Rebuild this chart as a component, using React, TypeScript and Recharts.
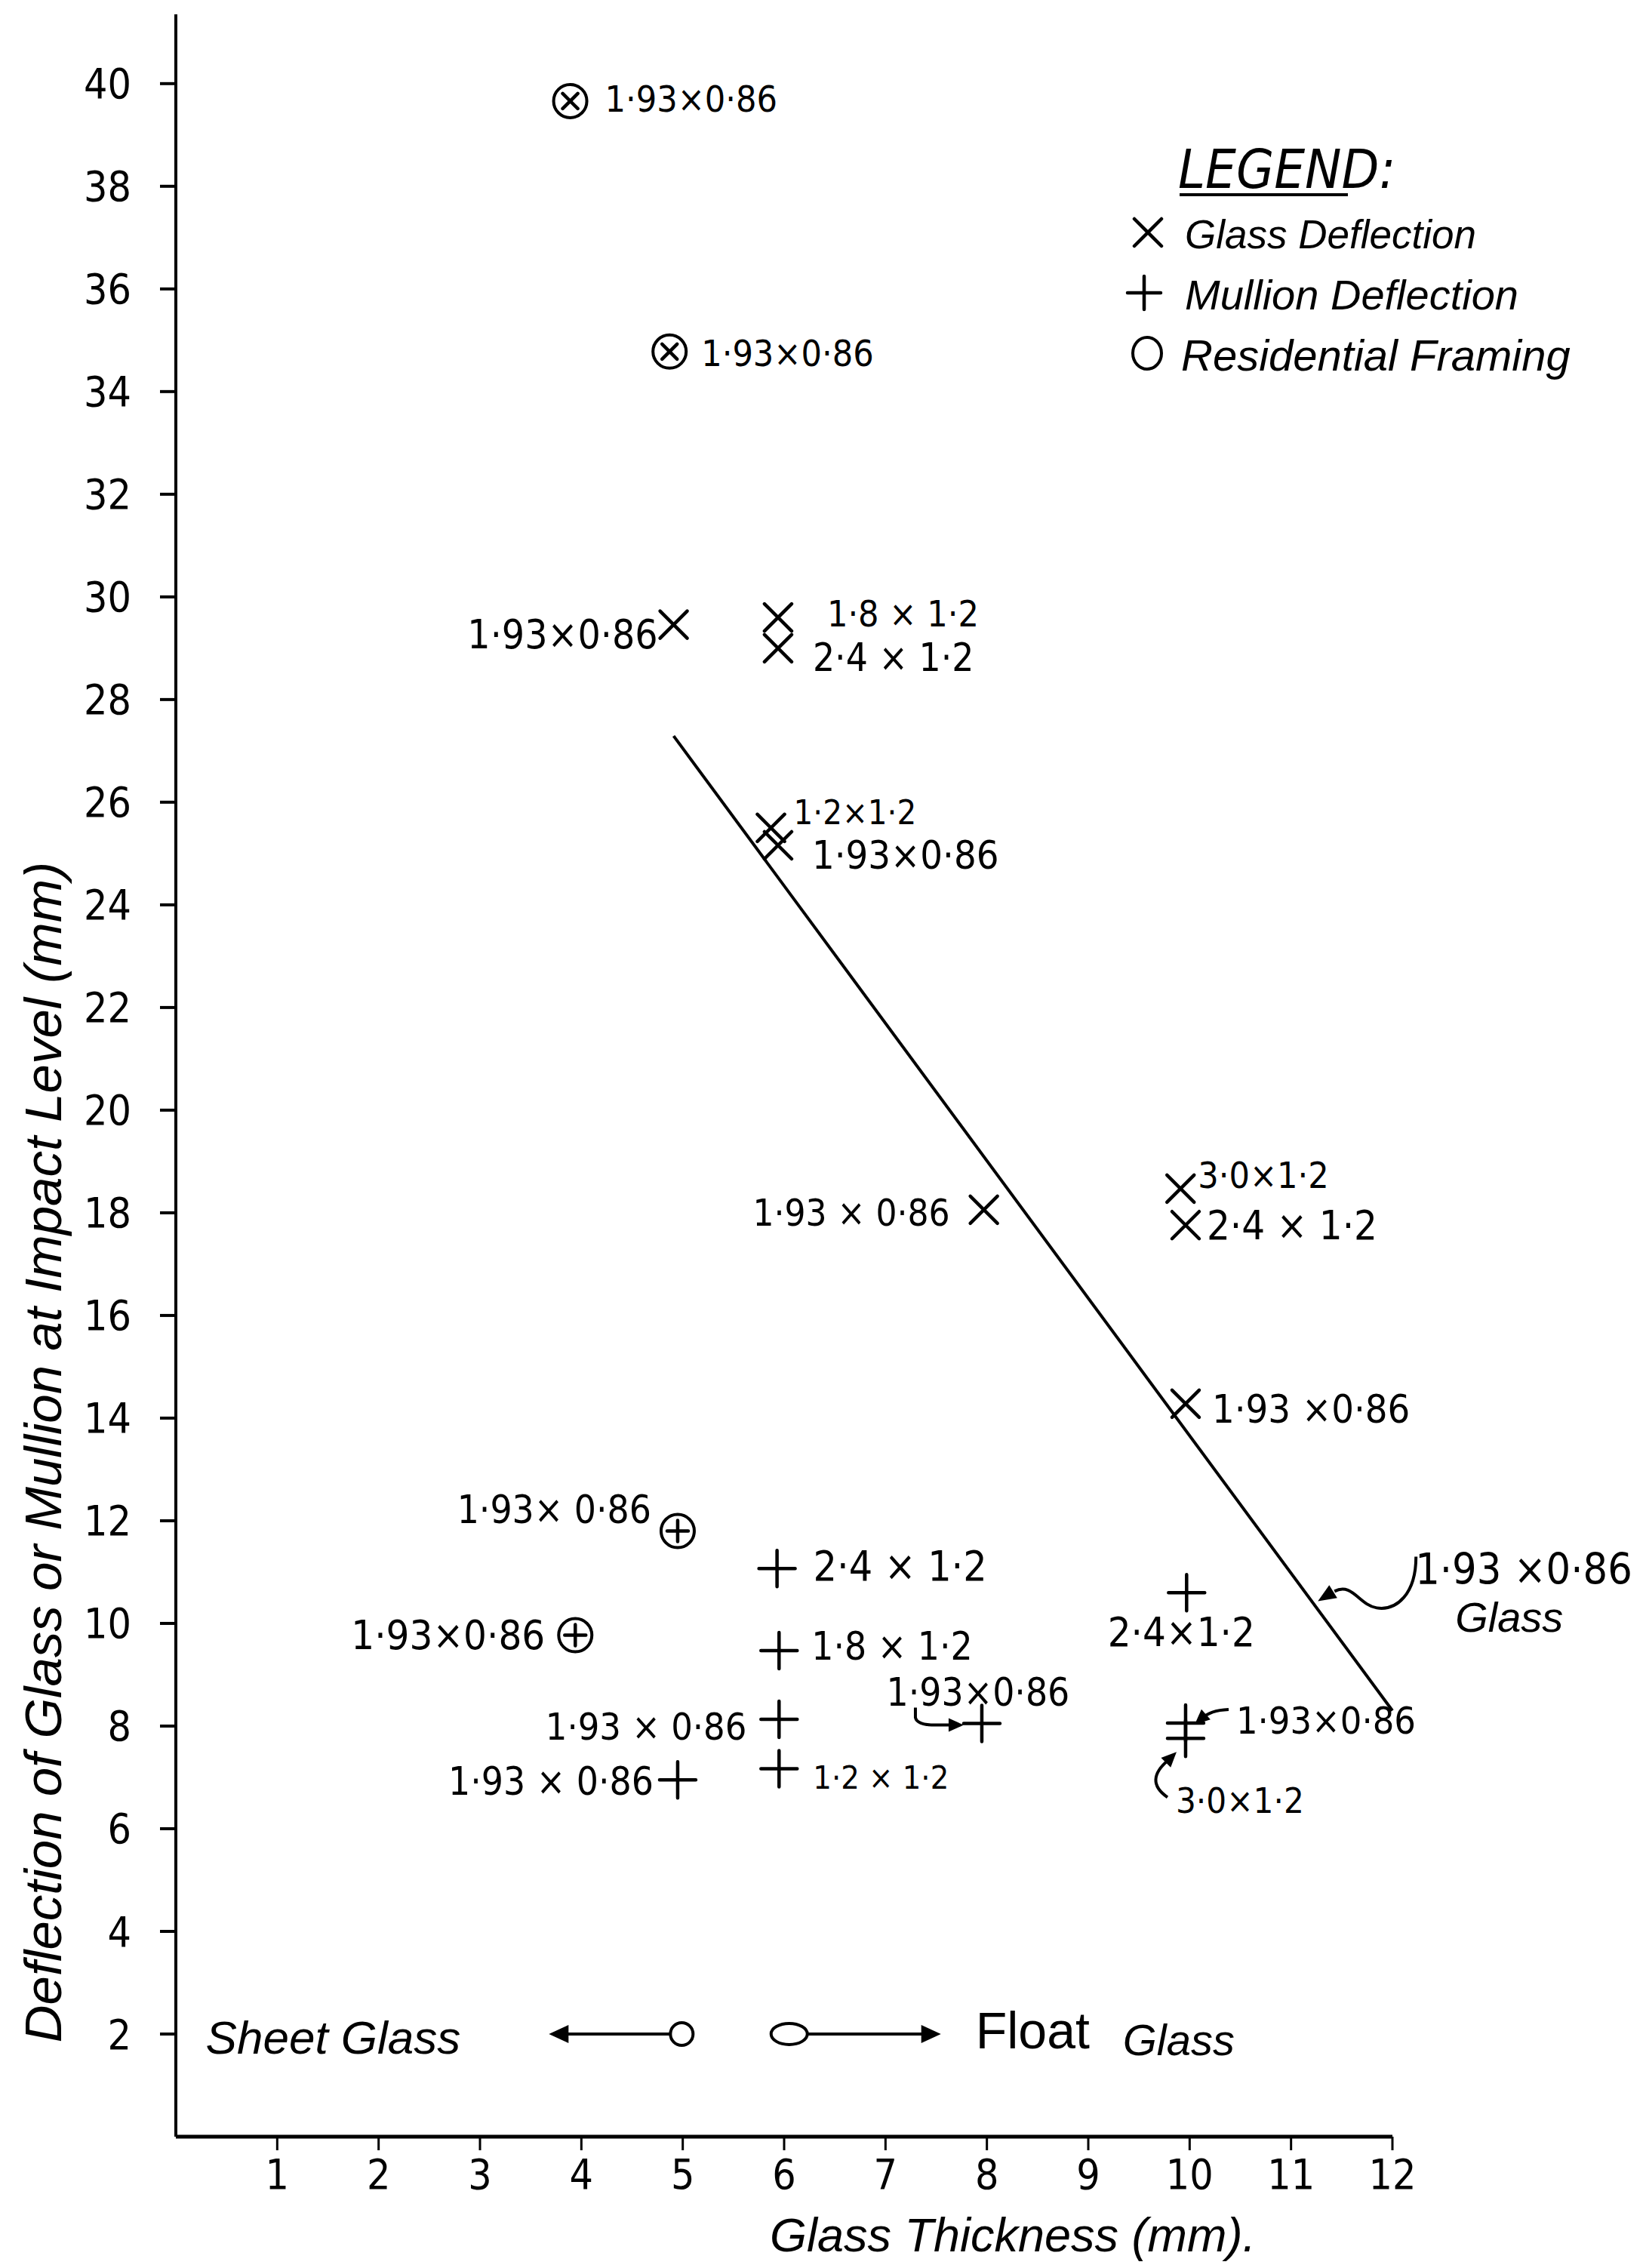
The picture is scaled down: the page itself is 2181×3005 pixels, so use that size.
import React from "react";
import { ScatterChart, Scatter, XAxis, YAxis, ReferenceDot, Label } from "recharts";

const W = 2181;
const H = 3005;
const NUM_FONT = "'Liberation Sans Narrow', 'DejaVu Sans Condensed', 'Liberation Sans', sans-serif";
const WORD_FONT = "'Liberation Sans', 'DejaVu Sans', sans-serif";
const INK = "#000";

// glass deflection (×)
const glassThickness = [4.91, 5.94, 5.94, 5.87, 5.94, 7.97, 9.91, 9.96, 9.96];
const glassDeflection = [29.46, 29.6, 29.0, 25.5, 25.16, 18.06, 18.47, 17.76, 14.28];
const glassPanel = ["1·93×0·86", "1·8 × 1·2", "2·4 × 1·2", "1·2×1·2", "1·93×0·86", "1·93 × 0·86", "3·0×1·2", "2·4 × 1·2", "1·93 ×0·86"];

// glass deflection, residential framing (circled ×)
const resGlassThickness = [3.89, 4.87];
const resGlassDeflection = [39.66, 34.78];
const resGlassPanel = ["1·93×0·86", "1·93×0·86"];

// mullion deflection (+)
const mullionThickness = [5.93, 5.95, 5.95, 5.95, 4.95, 7.95, 9.97, 9.96, 9.96];
const mullionDeflection = [11.07, 9.47, 8.13, 7.17, 6.95, 8.05, 10.6, 8.06, 7.76];
const mullionPanel = ["2·4 × 1·2", "1·8 × 1·2", "1·93 × 0·86", "1·2 × 1·2", "1·93 × 0·86", "1·93×0·86", "2·4×1·2", "1·93×0·86", "3·0×1·2"];

// mullion deflection, residential framing (circled +)
const resMullionThickness = [4.95, 3.94];
const resMullionDeflection = [11.8, 9.77];
const resMullionPanel = ["1·93× 0·86", "1·93×0·86"];

// fitted line through the glass points
const fitThickness = [4.91, 12];
const fitDeflection = [27.29, 8.3];
const fitNoteAt = { x: 11.22, y: 10.42 };
const fitNote = ["1·93 ×0·86", "Glass"];

// sheet / float glass divide
const glassTypeThickness = [4.99, 6.05];
const glassTypeLevel = [2, 2];
const glassTypeName = ["Sheet Glass", "Float"];

const xTicks = [1, 2, 3, 4, 5, 6, 7, 8, 9, 10, 11, 12];
const yTicks = [2, 4, 6, 8, 10, 12, 14, 16, 18, 20, 22, 24, 26, 28, 30, 32, 34, 36, 38, 40];

// label placement beside each mark: side, gap (px), vertical shift (px)
type Side = "l" | "r" | "c";
const glassLabelAt: [Side, number, number][] = [
  ["l", 21, 13], ["r", 65, -5], ["r", 46, 13], ["r", 30, -20], ["r", 45, 13],
  ["l", 45, 5], ["r", 23, -18], ["r", 28, 0], ["r", 35, 7],
];
const glassLabelSize = [53, 48, 51, 45, 52, 49, 48, 54, 52];
const resGlassLabelAt: [Side, number, number][] = [["r", 46, -3], ["r", 42, 2]];
const resGlassLabelSize = [48, 48];
const mullionLabelAt: [Side, number, number][] = [
  ["r", 48, -3], ["r", 43, -5], ["l", 43, 10], ["r", 45, 12], ["l", 32, 2],
  ["c", -5, -41], ["c", -7, 52], ["r", 67, -3], ["r", -13, 82],
];
const mullionLabelSize = [55, 51, 50, 43, 51, 51, 54, 50, 47];
const mullionPointer = ["", "", "", "", "", "hook", "", "left", "under"];
const resMullionLabelAt: [Side, number, number][] = [["l", 35, -28], ["l", 40, 0]];
const resMullionLabelSize = [51, 54];

const pts = (xs: number[], ys: number[]) => xs.map((x, i) => ({ x, y: ys[i], i }));

const glassData = pts(glassThickness, glassDeflection);
const resGlassData = pts(resGlassThickness, resGlassDeflection);
const mullionData = pts(mullionThickness, mullionDeflection);
const resMullionData = pts(resMullionThickness, resMullionDeflection);
const fitData = pts(fitThickness, fitDeflection);
const glassTypeData = pts(glassTypeThickness, glassTypeLevel);

function Tag({ cx, cy, at, text, size = 50 }: any) {
  const [side, gap, dy] = at;
  const x = side === "l" ? cx - gap : cx + gap;
  const anchor = side === "l" ? "end" : side === "c" ? "middle" : "start";
  return (
    <text x={x} y={cy + dy} textAnchor={anchor} dominantBaseline="central"
      fontFamily={NUM_FONT} fontSize={size} fill={INK}>
      {text}
    </text>
  );
}

// filled arrow head at (tx,ty), coming from (fx,fy)
function Head({ tx, ty, fx, fy, len = 20, half = 9 }: any) {
  const a = Math.atan2(ty - fy, tx - fx);
  const bx = tx - Math.cos(a) * len;
  const by = ty - Math.sin(a) * len;
  const nx = -Math.sin(a) * half;
  const ny = Math.cos(a) * half;
  return <path d={`M${tx},${ty} L${bx + nx},${by + ny} L${bx - nx},${by - ny} Z`} fill={INK} />;
}

const Cross = ({ cx, cy, s }: any) => (
  <path d={`M${cx - s},${cy - s} L${cx + s},${cy + s} M${cx + s},${cy - s} L${cx - s},${cy + s}`} stroke={INK} strokeWidth={4.5} strokeLinecap="round" />
);
const Plus = ({ cx, cy, s }: any) => (
  <path d={`M${cx - s},${cy} L${cx + s},${cy} M${cx},${cy - s} L${cx},${cy + s}`} stroke={INK} strokeWidth={4.5} strokeLinecap="round" />
);

function GlassMark(p: any) {
  const i = p.payload.i;
  return (
    <g>
      <Cross cx={p.cx} cy={p.cy} s={18} />
      <Tag cx={p.cx} cy={p.cy} at={glassLabelAt[i]} text={glassPanel[i]} size={glassLabelSize[i]} />
    </g>
  );
}

function ResGlassMark(p: any) {
  const i = p.payload.i;
  return (
    <g>
      <circle cx={p.cx} cy={p.cy} r={22} fill="none" stroke={INK} strokeWidth={4} />
      <Cross cx={p.cx} cy={p.cy} s={10} />
      <Tag cx={p.cx} cy={p.cy} at={resGlassLabelAt[i]} text={resGlassPanel[i]} size={resGlassLabelSize[i]} />
    </g>
  );
}

function MullionMark(p: any) {
  const i = p.payload.i;
  const { cx, cy } = p;
  const kind = mullionPointer[i];
  return (
    <g>
      <Plus cx={cx} cy={cy} s={24} />
      <Tag cx={cx} cy={cy} at={mullionLabelAt[i]} text={mullionPanel[i]} size={mullionLabelSize[i]} />
      {kind === "hook" && (
        <g>
          <path d={`M${cx - 88},${cy - 21} L${cx - 88},${cy - 8} Q${cx - 86},${cy + 2} ${cx - 62},${cy + 2} L${cx - 40},${cy + 2}`} fill="none" stroke={INK} strokeWidth={4} />
          <Head tx={cx - 24} ty={cy + 2} fx={cx - 60} fy={cy + 2} />
        </g>
      )}
      {kind === "left" && (
        <g>
          <path d={`M${cx + 57},${cy - 18} Q${cx + 32},${cy - 17} ${cx + 22},${cy - 6}`} fill="none" stroke={INK} strokeWidth={4} />
          <Head tx={cx + 12} ty={cy + 2} fx={cx + 30} fy={cy - 14} />
        </g>
      )}
      {kind === "under" && (
        <g>
          <path d={`M${cx - 24},${cy + 78} Q${cx - 56},${cy + 56} ${cx - 22},${cy + 28}`} fill="none" stroke={INK} strokeWidth={4} />
          <Head tx={cx - 12} ty={cy + 18} fx={cx - 30} fy={cy + 36} />
        </g>
      )}
    </g>
  );
}

function ResMullionMark(p: any) {
  const i = p.payload.i;
  return (
    <g>
      <circle cx={p.cx} cy={p.cy} r={22} fill="none" stroke={INK} strokeWidth={4} />
      <Plus cx={p.cx} cy={p.cy} s={14} />
      <Tag cx={p.cx} cy={p.cy} at={resMullionLabelAt[i]} text={resMullionPanel[i]} size={resMullionLabelSize[i]} />
    </g>
  );
}

function GlassTypeMark(p: any) {
  const i = p.payload.i;
  const { cx, cy } = p;
  if (i === 0) {
    return (
      <g>
        <ellipse cx={cx} cy={cy} rx={15} ry={15} fill="none" stroke={INK} strokeWidth={4} />
        <path d={`M${cx - 15},${cy} L${cx - 160},${cy}`} stroke={INK} strokeWidth={4} />
        <Head tx={cx - 176} ty={cy} fx={cx - 100} fy={cy} len={26} half={12} />
        <text x={cx - 293} y={cy + 5} textAnchor="end" dominantBaseline="central" fontFamily={WORD_FONT} fontStyle="italic" fontSize={62} fill={INK}>
          {glassTypeName[i]}
        </text>
      </g>
    );
  }
  return (
    <g>
      <ellipse cx={cx} cy={cy} rx={24} ry={14} fill="none" stroke={INK} strokeWidth={4} />
      <path d={`M${cx + 24},${cy} L${cx + 185},${cy}`} stroke={INK} strokeWidth={4} />
      <Head tx={cx + 201} ty={cy} fx={cx + 120} fy={cy} len={26} half={12} />
      <text x={cx + 247} y={cy - 5} dominantBaseline="central" fontFamily={WORD_FONT} fontSize={68} fill={INK}>
        {glassTypeName[i]}
      </text>
      <text x={cx + 442} y={cy + 8} dominantBaseline="central" fontFamily={WORD_FONT} fontStyle="italic" fontSize={58} fill={INK}>
        Glass
      </text>
    </g>
  );
}

function FitNote(p: any) {
  const { cx, cy } = p;
  return (
    <g>
      <path d={`M${cx + 136},${cy - 60} C${cx + 136},${cy - 10} ${cx + 110},${cy + 12} ${cx + 84},${cy + 8} C${cx + 60},${cy + 4} ${cx + 52},${cy - 26} ${cx + 28},${cy - 14}`} fill="none" stroke={INK} strokeWidth={4} />
      <Head tx={cx + 6} ty={cy - 1} fx={cx + 30} fy={cy - 16} len={24} half={10} />
      <text x={cx + 135} y={cy - 43} dominantBaseline="central" fontFamily={NUM_FONT} fontSize={57} fill={INK}>{fitNote[0]}</text>
      <text x={cx + 188} y={cy + 20} dominantBaseline="central" fontFamily={WORD_FONT} fontStyle="italic" fontSize={56} fill={INK}>{fitNote[1]}</text>
    </g>
  );
}

function LegendBox() {
  const txt = { fontFamily: WORD_FONT, fontStyle: "italic" as const, fill: INK, dominantBaseline: "central" as const };
  return (
    <svg width={W} height={H} style={{ position: "absolute", left: 0, top: 0, pointerEvents: "none" }}>
      <text x={1561} y={224} fontFamily={NUM_FONT} fontStyle="italic" fontSize={72} fill={INK} dominantBaseline="central">LEGEND:</text>
      <line x1={1563} y1={258} x2={1786} y2={258} stroke={INK} strokeWidth={4} />
      <Cross cx={1521} cy={308} s={18} />
      <text x={1570} y={310} fontSize={53} {...txt}>Glass Deflection</text>
      <Plus cx={1516} cy={388} s={22} />
      <text x={1570} y={390} fontSize={56} {...txt}>Mullion Deflection</text>
      <ellipse cx={1520} cy={468} rx={19} ry={21} fill="none" stroke={INK} strokeWidth={4} />
      <text x={1565} y={470} fontSize={58} {...txt}>Residential Framing</text>
    </svg>
  );
}

export default function App() {
  return (
    <div style={{ position: "absolute", left: 0, top: 0, width: W, height: H, background: "#fff" }}>
      <ScatterChart width={W} height={H} margin={{ top: 19, right: 336, bottom: 54, left: 53 }}>
        <XAxis
          type="number"
          dataKey="x"
          domain={[0, 12]}
          ticks={xTicks}
          interval={0}
          height={120}
          tickSize={18}
          tickMargin={12}
          axisLine={{ stroke: INK, strokeWidth: 5 }}
          tickLine={{ stroke: INK, strokeWidth: 3 }}
          tick={{ fill: INK, fontSize: 55, fontFamily: NUM_FONT }}
        >
          <Label
            content={() => (
              <text x={1342} y={2961} textAnchor="middle" dominantBaseline="central" fontFamily={WORD_FONT} fontStyle="italic" fontSize={63} fill={INK}>
                Glass Thickness (mm).
              </text>
            )}
          />
        </XAxis>
        <YAxis
          type="number"
          dataKey="y"
          domain={[0, 41.35]}
          ticks={yTicks}
          interval={0}
          width={180}
          tickSize={21}
          tickMargin={38}
          axisLine={{ stroke: INK, strokeWidth: 4 }}
          tickLine={{ stroke: INK, strokeWidth: 4 }}
          tick={{ fill: INK, fontSize: 55, fontFamily: NUM_FONT }}
        >
          <Label
            content={() => (
              <text x={57} y={1924} textAnchor="middle" dominantBaseline="central" transform="rotate(-90, 57, 1924)" fontFamily={WORD_FONT} fontStyle="italic" fontSize={69} fill={INK}>
                Deflection of Glass or Mullion at Impact Level (mm)
              </text>
            )}
          />
        </YAxis>
        <Scatter name="Glass fit" data={fitData} line={{ stroke: INK, strokeWidth: 4 }} shape={() => <g />} isAnimationActive={false} />
        <Scatter name="Glass Deflection" data={glassData} shape={(p: any) => <GlassMark {...p} />} isAnimationActive={false} />
        <Scatter name="Glass Deflection (residential)" data={resGlassData} shape={(p: any) => <ResGlassMark {...p} />} isAnimationActive={false} />
        <Scatter name="Mullion Deflection" data={mullionData} shape={(p: any) => <MullionMark {...p} />} isAnimationActive={false} />
        <Scatter name="Mullion Deflection (residential)" data={resMullionData} shape={(p: any) => <ResMullionMark {...p} />} isAnimationActive={false} />
        <Scatter name="Glass type" data={glassTypeData} shape={(p: any) => <GlassTypeMark {...p} />} isAnimationActive={false} />
        <ReferenceDot x={fitNoteAt.x} y={fitNoteAt.y} shape={(p: any) => <FitNote {...p} />} />
      </ScatterChart>
      <LegendBox />
    </div>
  );
}
